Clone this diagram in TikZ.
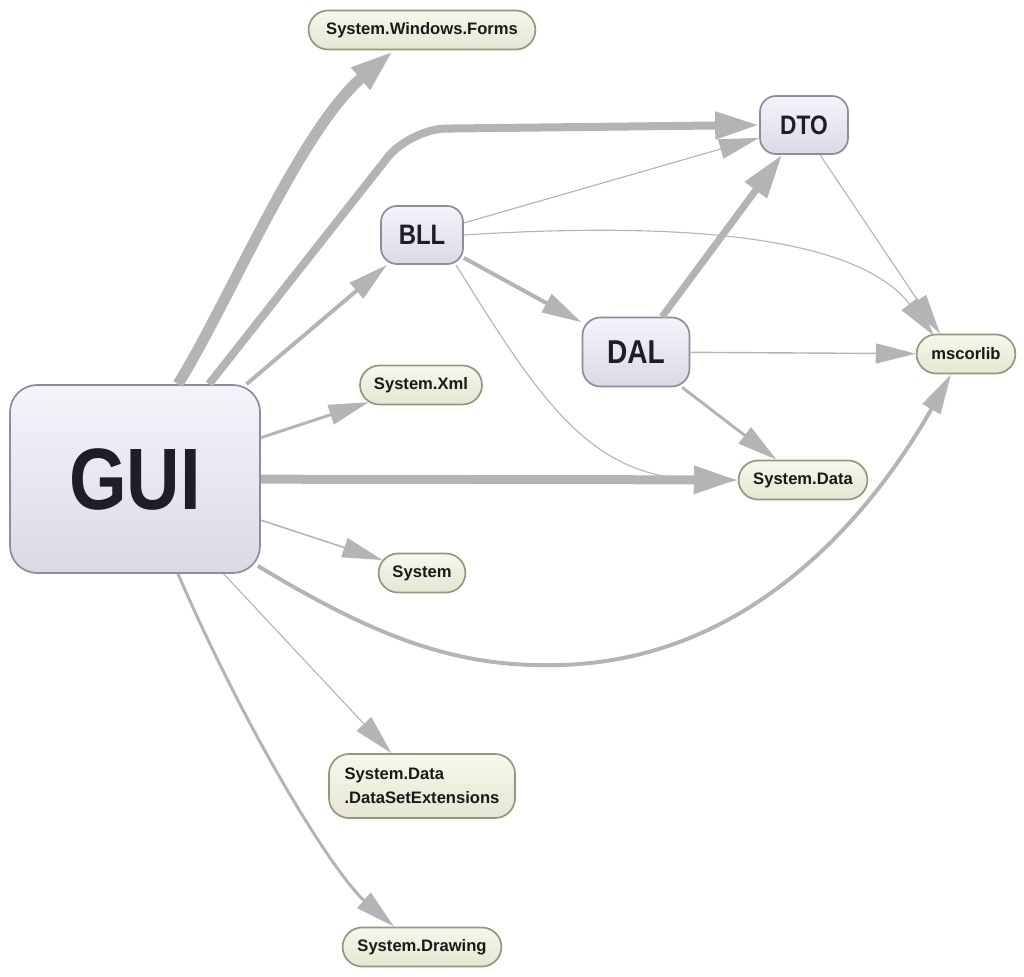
\documentclass[tikz,border=0pt]{standalone}
\usepackage{fontspec}
\setmainfont{Liberation Sans}
\newfontfamily\narrowsans[FakeStretch=0.85]{Liberation Sans}
\usetikzlibrary{arrows.meta, calc, shapes.misc}
\definecolor{edgegray}{RGB}{180,180,180}
\definecolor{asmtop}{RGB}{244,244,251}
\definecolor{asmbot}{RGB}{218,218,230}
\definecolor{asmline}{RGB}{140,140,155}
\definecolor{asmtext}{RGB}{30,30,40}
\definecolor{libtop}{RGB}{247,247,236}
\definecolor{libbot}{RGB}{230,230,211}
\definecolor{libline}{RGB}{150,150,125}
\tikzset{
  asm/.style={draw=asmline, line width=1.2pt, top color=asmtop, bottom color=asmbot,
    rounded corners=#1, text=asmtext, font=\narrowsans\bfseries},
  asm/.default=0.4cm,
  lib/.style={draw=libline, line width=1.2pt, top color=libtop, bottom color=libbot,
    rounded rectangle, minimum height=0.975cm, inner xsep=4pt, align=left,
    text=black!90, font=\bfseries\fontsize{11.8}{17}\selectfont},
  libtwo/.style={lib, rectangle, rounded corners=0.5cm},
  dep/.style={draw=edgegray, line width=#1, -{Triangle[length=1cm, width=0.5cm]}},
  dep/.default=0.8pt,
  heavy/.style={draw=edgegray, line width=#1, -{Triangle[length=1.1cm, width=0.65cm]}},
}

\begin{document}
\begin{tikzpicture}[x=0.025cm, y=-0.025cm]
\useasboundingbox (0,0) rectangle (1024,977);

% ── Assemblies of the solution ──────────────────────────────
\node[asm=0.68cm, minimum width=6.25cm, minimum height=4.7cm] (gui) at (135,479) {\fontsize{62}{62}\selectfont GUI};
\node[asm, minimum width=2.2cm, minimum height=1.45cm] (dto) at (804,125) {\fontsize{19}{19}\selectfont DTO};
\node[asm, minimum width=2.05cm, minimum height=1.45cm] (bll) at (422,235) {\fontsize{20}{20}\selectfont BLL};
\node[asm=0.45cm, minimum width=2.675cm, minimum height=1.725cm] (dal) at (636,352) {\fontsize{23.5}{23.5}\selectfont DAL};

% ── Referenced libraries ────────────────────────────────────
\node[lib, minimum width=5.95cm] (swf) at (422,30) {System.Windows.Forms};
\node[lib, minimum width=3.33cm] (xml) at (421,385) {System.Xml};
\node[lib, minimum width=3.5cm] (sd) at (803,480) {System.Data};
\node[lib, minimum width=2.45cm] (sys) at (422,573) {System};
\node[libtwo, minimum width=4.65cm, minimum height=1.6cm] (dse) at (422,786) {System.Data\\.DataSetExtensions};
\node[lib, minimum width=4.25cm] (drw) at (422,947) {System.Drawing};
\node[lib, minimum width=2.75cm] (ms) at (966,354) {mscorlib};

% ── GUI dependencies ────────────────────────────────────────
\draw[heavy=7.8pt] ($(gui.north)+(43,0)$) .. controls (230,300) and (300,130) .. ($(swf.south)+(-28,0)$);
\draw[heavy=5.7pt, rounded corners=0.9cm] ($(gui.north)+(74,0)$) -- (410,129) -- (dto.west);
\draw[dep=2.8pt] (gui) -- (bll);
\draw[dep=2.1pt] (gui) -- (xml);
\draw[heavy=6.4pt] (gui) -- (sd);
\draw[dep=1.1pt] (gui) -- (sys);
\draw[dep=2.8pt] ($(gui.south east)+(-3,-8)$) .. controls (380,640) and (460,668) .. (560,665)
  .. controls (760,660) and (880,500) .. ($(ms.south)+(-15,0)$);
\draw[dep] (gui) -- (dse);
\draw[dep=2.1pt] ($(gui.south)+(43,0)$) .. controls (250,740) and (335,875) .. ($(drw.north)+(-28,0)$);

% ── BLL dependencies ────────────────────────────────────────
\draw[dep] (bll) -- (dto);
\draw[dep] (bll.east) .. controls (700,220) and (860,240) .. ($(ms.north)+(-32,2)$);
\draw[dep=2.8pt] (bll) -- (dal);
\draw[dep] ($(bll.south east)+(-8,0)$) .. controls (540,400) and (590,478) .. (sd.west);

% ── DAL and DTO dependencies ────────────────────────────────
\draw[heavy=5pt] (dal) -- (dto);
\draw[dep=1pt] (dal) -- (ms);
\draw[dep=2.1pt] (dal) -- (sd);
\draw[dep] ($(dto.south)+(16,0)$) -- ($(ms.north)+(-26,0)$);

\end{tikzpicture}
\end{document}
